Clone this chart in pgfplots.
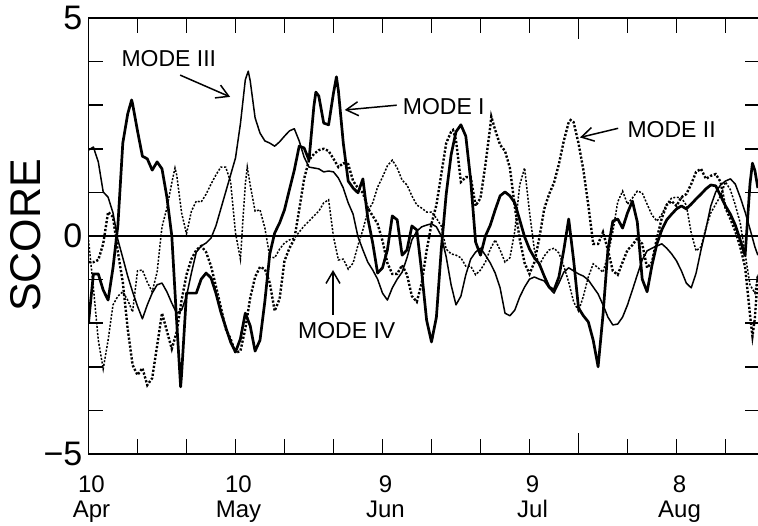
\documentclass[border=0pt]{standalone}
\usepackage{fontspec}
\setmainfont{Liberation Sans}
\usepackage{pgfplots}
\pgfplotsset{compat=1.18}
\usetikzlibrary{arrows.meta}

\begin{document}
\begin{tikzpicture}
\useasboundingbox (0pt,0pt) rectangle (758pt,526pt);
\begin{axis}[
    at={(88.5pt,72pt)}, anchor=south west,
    scale only axis, width=671.3pt, height=436pt,
    xmin=100, xmax=237, ymin=-5, ymax=5,
    axis line style={line width=1.8pt},
    tick align=inside, tick pos=both,
    xtick={100,110,...,230},
    xticklabels={{10\\Apr},,,{10\\May},,,{9\\Jun},,,{9\\Jul},,,{8\\Aug},},
    xticklabel style={align=center, font=\fontsize{24}{25}\selectfont, inner sep=0pt, yshift=-22pt, xshift=3pt},
    extra x ticks={200}, extra x tick labels={},
    extra x tick style={major tick length=21pt},
    ytick={-5,0,5}, yticklabels={−5,0,5},
    minor ytick={-4,-3,-2,-1,1,2,3,4},
    yticklabel style={font=\fontsize{34}{34}\selectfont, inner sep=0pt, xshift=-6pt},
    major tick length=15pt, minor tick length=15pt,
    tick style={black, line width=1.6pt},
    clip mode=individual,
]
% zero line
\addplot[black, line width=1.6pt, forget plot] coordinates {(100,0) (237,0)};

% MODE I (thick solid)
\addplot[black, line width=2.7pt, line join=round] coordinates {
(100,-2.00)(101,-0.87)(102,-0.87)(103,-1.24)(104,-1.47)(105,-0.73)(106,0.25)(107,2.13)(108,2.80)(108.8,3.12)(109,3.03)(110,2.41)(111,1.83)(112,1.77)(113,1.51)(114,1.70)(115,1.54)(116,0.89)(117,0.00)(118,-1.97)(118.8,-3.46)(119,-3.17)(120,-1.31)(121,-1.31)(122,-1.31)(123,-0.99)(124,-0.85)(125,-0.96)(126,-1.31)(127,-1.74)(128,-2.09)(129,-2.43)(130,-2.66)(131,-2.36)(132,-1.77)(133,-2.06)(134,-2.64)(135,-2.39)(136,-1.49)(137,-0.41)(138,0.07)(139,0.30)(140,0.60)(141,1.06)(142,1.51)(143,2.06)(144,2.02)(145,1.74)(146,2.98)(146.4,3.30)(147,3.21)(148,2.59)(149,2.55)(150,3.28)(150.6,3.65)(151,3.33)(152,2.13)(153,1.26)(154,1.10)(155,0.99)(156,1.31)(157,0.41)(158,-0.16)(159,-0.85)(160,-0.73)(161,-0.32)(162,0.46)(163,0.37)(164,-0.44)(165,-0.32)(166,0.23)(167,0.14)(168,-0.83)(169,-1.93)(170,-2.43)(171,-1.86)(172,-0.30)(173,0.96)(174,1.86)(175,2.39)(176,2.55)(177,2.29)(178,1.28)(179,-0.14)(180,-0.44)(181,0.00)(182,0.25)(183,0.60)(184,0.92)(185,1.01)(186,0.92)(187,0.76)(188,0.37)(189,-0.02)(190,-0.30)(191,-0.50)(192,-0.64)(193,-0.92)(194,-1.17)(195,-1.24)(196,-0.94)(197,-0.32)(198,0.39)(199,-0.55)(200,-1.65)(201,-1.83)(202,-1.97)(203,-2.39)(204,-3.00)(205,-1.81)(206,-0.32)(207,0.34)(208,0.39)(209,0.18)(210,0.53)(211,0.80)(212,0.32)(213,-0.99)(214,-1.28)(215,-0.67)(216,-0.18)(217,0.14)(218,0.37)(219,0.50)(220,0.62)(221,0.69)(222,0.62)(223,0.73)(224,0.85)(225,0.96)(226,1.08)(227,1.17)(228,1.15)(229,0.92)(230,0.69)(231,0.50)(232,0.25)(233,-0.09)(234,-0.45)(235,1.20)(235.5,1.67)(236,1.50)(236.6,1.10)
};

% MODE III (thin solid)
\addplot[black, line width=1.5pt, line join=round] coordinates {
(100,1.97)(101,2.04)(102,1.70)(103,1.01)(104,0.89)(105,0.53)(106,-0.09)(107,-0.50)(108,-0.92)(109,-1.28)(110,-1.61)(111,-1.90)(112,-1.58)(113,-1.31)(114,-1.12)(115,-1.08)(116,-1.28)(117,-1.54)(118,-1.77)(119,-1.70)(120,-1.38)(121,-0.85)(122,-0.37)(123,-0.23)(124,-0.16)(125,-0.05)(126,0.23)(127,0.62)(128,1.01)(129,1.40)(130,1.79)(131,2.57)(132,3.58)(132.6,3.78)(133,3.56)(134,2.71)(135,2.36)(136,2.18)(137,2.13)(138,2.06)(139,2.16)(140,2.29)(141,2.41)(142,2.46)(143,2.18)(144,1.81)(145,1.58)(146,1.56)(147,1.54)(148,1.47)(149,1.49)(150,1.47)(151,1.33)(152,1.10)(153,0.76)(154,0.50)(155,-0.02)(156,-0.32)(157,-0.60)(158,-0.78)(159,-0.99)(160,-1.31)(161,-1.47)(162,-1.19)(163,-0.99)(164,-0.83)(165,-0.50)(166,-0.09)(167,0.11)(168,0.21)(169,0.25)(170,0.28)(171,0.21)(172,0.00)(173,-0.48)(174,-1.12)(175,-1.58)(176,-1.38)(177,-0.89)(178,-0.53)(179,-0.37)(180,-0.28)(181,-0.44)(182,-0.62)(183,-0.85)(184,-1.19)(185,-1.77)(186,-1.83)(187,-1.70)(188,-1.40)(189,-1.17)(190,-0.99)(191,-0.94)(192,-0.99)(193,-1.03)(194,-1.19)(195,-1.31)(196,-1.08)(197,-0.83)(198,-0.73)(199,-0.80)(200,-0.87)(201,-0.92)(202,-1.01)(203,-1.17)(204,-1.33)(205,-1.58)(206,-1.86)(207,-2.04)(208,-2.02)(209,-1.86)(210,-1.58)(211,-1.24)(212,-0.89)(213,-0.55)(214,-0.34)(215,-0.28)(216,-0.23)(217,-0.18)(218,-0.28)(219,-0.41)(220,-0.57)(221,-0.80)(222,-1.08)(223,-1.19)(224,-0.85)(225,-0.32)(226,0.16)(227,0.69)(228,1.01)(229,1.17)(230,1.26)(231,1.31)(232,1.19)(233,0.89)(234,0.55)(235,0.16)(236,-0.25)(236.6,-0.44)
};

% MODE II (thick dotted)
\addplot[black, line width=2.4pt, dash pattern=on 2.2pt off 1.8pt] coordinates {
(100,-0.60)(101,-0.60)(102,-0.55)(103,-0.18)(104,0.55)(105,0.44)(106,-0.37)(107,-1.06)(108,-2.13)(109,-2.96)(110,-3.19)(111,-3.03)(112,-3.42)(113,-3.26)(114,-2.52)(115,-1.77)(116,-2.18)(117,-2.59)(118,-2.20)(119,-1.47)(120,-0.89)(121,-0.53)(122,-0.32)(123,-0.23)(124,-0.37)(125,-0.69)(126,-1.15)(127,-1.63)(128,-2.13)(129,-2.36)(130,-2.68)(131,-2.64)(132,-2.13)(133,-1.42)(134,-0.94)(135,-0.71)(136,-0.76)(137,-1.08)(138,-1.72)(139,-1.44)(140,-0.57)(141,-0.28)(142,-0.07)(143,0.60)(144,1.31)(145,1.74)(146,1.88)(147,1.97)(148,2.00)(149,1.95)(150,1.77)(151,1.58)(152,1.67)(153,1.65)(154,1.26)(155,1.10)(156,0.99)(157,0.64)(158,0.46)(159,0.28)(160,-0.11)(161,-0.62)(162,-0.87)(163,-0.87)(164,-0.67)(165,-0.89)(166,-1.38)(167,-1.51)(168,-1.08)(169,-0.34)(170,0.28)(171,0.71)(172,1.42)(173,2.13)(174,2.39)(174.4,2.43)(175,2.20)(176,1.24)(177,1.35)(178,1.35)(179,0.69)(180,0.87)(181,1.63)(182,2.52)(182.2,2.74)(183,2.43)(184,2.09)(185,1.95)(186,1.56)(187,0.67)(188,-0.07)(189,-0.62)(190,-0.87)(191,-0.60)(192,-0.05)(193,0.62)(194,0.96)(195,1.22)(196,1.65)(197,2.18)(198,2.61)(198.4,2.66)(199,2.61)(200,2.13)(201,1.51)(202,0.71)(203,-0.18)(204,-0.18)(205,0.09)(206,-0.32)(207,-0.80)(208,-0.89)(209,-0.60)(210,-0.32)(211,-0.21)(212,-0.05)(213,-0.18)(214,-0.73)(215,-0.60)(216,-0.05)(217,0.41)(218,0.71)(219,0.80)(220,0.69)(221,0.89)(222,0.96)(223,1.19)(224,1.47)(225,1.54)(226,1.31)(227,1.38)(228,1.42)(229,1.24)(230,0.64)(231,0.39)(232,0.11)(233,-0.25)(234,-0.71)(235,-1.81)(235.5,-2.30)(236,-1.88)(236.6,-0.89)
};

% MODE IV (thin dotted)
\addplot[black, line width=1.5pt, dash pattern=on 2pt off 1.6pt] coordinates {
(100,-0.09)(101,-1.19)(102,-2.39)(103,-3.05)(104,-2.39)(105,-1.58)(106,-1.38)(107,-1.28)(108,-1.47)(109,-1.74)(110,-0.80)(111,-0.78)(112,-1.06)(113,-1.28)(114,-0.83)(115,0.21)(116,0.64)(117,1.22)(117.65,1.56)(118,1.40)(119,0.53)(120,0.05)(121,0.57)(122,0.80)(123,0.78)(124,0.96)(125,1.19)(126,1.40)(127,1.58)(128,1.58)(129,1.24)(130,0.07)(131,-0.53)(132,1.19)(132.4,1.58)(133,1.17)(134,0.57)(135,0.60)(136,0.18)(137,-0.48)(138,-0.50)(139,-0.30)(140,-0.16)(141,-0.09)(142,-0.05)(143,0.09)(144,0.23)(145,0.34)(146,0.46)(147,0.57)(148,0.76)(149,0.83)(150,-0.02)(151,-0.55)(152,-0.53)(153,-0.76)(154,-0.62)(155,-0.21)(156,0.14)(157,0.57)(158,0.76)(159,1.12)(160,1.35)(161,1.61)(162,1.74)(163,1.56)(164,1.28)(165,1.17)(166,0.92)(167,0.71)(168,0.64)(169,0.55)(170,0.55)(171,0.41)(172,0.23)(173,-0.30)(174,-0.41)(175,-0.44)(176,-0.50)(177,-0.69)(178,-0.69)(179,-0.89)(180,-0.78)(181,-0.60)(182,-0.30)(183,-0.09)(184,-0.32)(185,-0.60)(186,-0.50)(187,0.11)(188,1.17)(189,1.56)(190,0.55)(191,-0.32)(192,-0.67)(193,-0.46)(194,-0.32)(195,-0.28)(196,-0.39)(197,-0.69)(198,-1.06)(199,-1.51)(200,-1.72)(201,-1.38)(202,-0.94)(203,-0.64)(204,-0.73)(205,-0.83)(206,-0.44)(207,0.09)(208,0.78)(209,1.03)(210,0.73)(211,0.87)(212,1.03)(213,0.99)(214,0.73)(215,0.48)(216,0.34)(217,0.50)(218,0.73)(219,0.87)(220,0.89)(221,0.87)(222,0.71)(223,0.07)(224,-0.34)(225,-0.25)(226,0.18)(227,0.53)(228,0.73)(229,0.92)(230,1.24)(231,1.06)(232,0.71)(233,0.30)(234,-0.41)(235,-1.12)(236,-1.31)(236.6,-0.89)
};

% annotations
\node[font=\fontsize{23}{23}\selectfont, inner sep=0pt] at (axis cs:116.4,4.08) {MODE III};
\draw[line width=1.5pt, -{Straight Barb[length=12pt,width=14pt]}] (axis cs:118.7,3.69) -- (axis cs:128.9,3.19);
\node[font=\fontsize{23}{23}\selectfont, inner sep=0pt] at (axis cs:172.5,2.97) {MODE I};
\draw[line width=1.5pt, -{Straight Barb[length=12pt,width=14pt]}] (axis cs:162.9,3.0) -- (axis cs:152.3,2.89);
\node[font=\fontsize{23}{23}\selectfont, inner sep=0pt] at (axis cs:219.0,2.44) {MODE II};
\draw[line width=1.5pt, -{Straight Barb[length=12pt,width=14pt]}] (axis cs:208.1,2.47) -- (axis cs:200.3,2.26);
\node[font=\fontsize{23}{23}\selectfont, inner sep=0pt] at (axis cs:152.7,-2.18) {MODE IV};
\draw[line width=1.5pt, -{Straight Barb[length=12pt,width=14pt]}] (axis cs:149.9,-1.81) -- (axis cs:149.9,-0.78);
\end{axis}
\node[rotate=90, font=\fontsize{43}{43}\selectfont, inner sep=0pt] at (26pt,290.5pt) {SCORE};
\end{tikzpicture}
\end{document}
